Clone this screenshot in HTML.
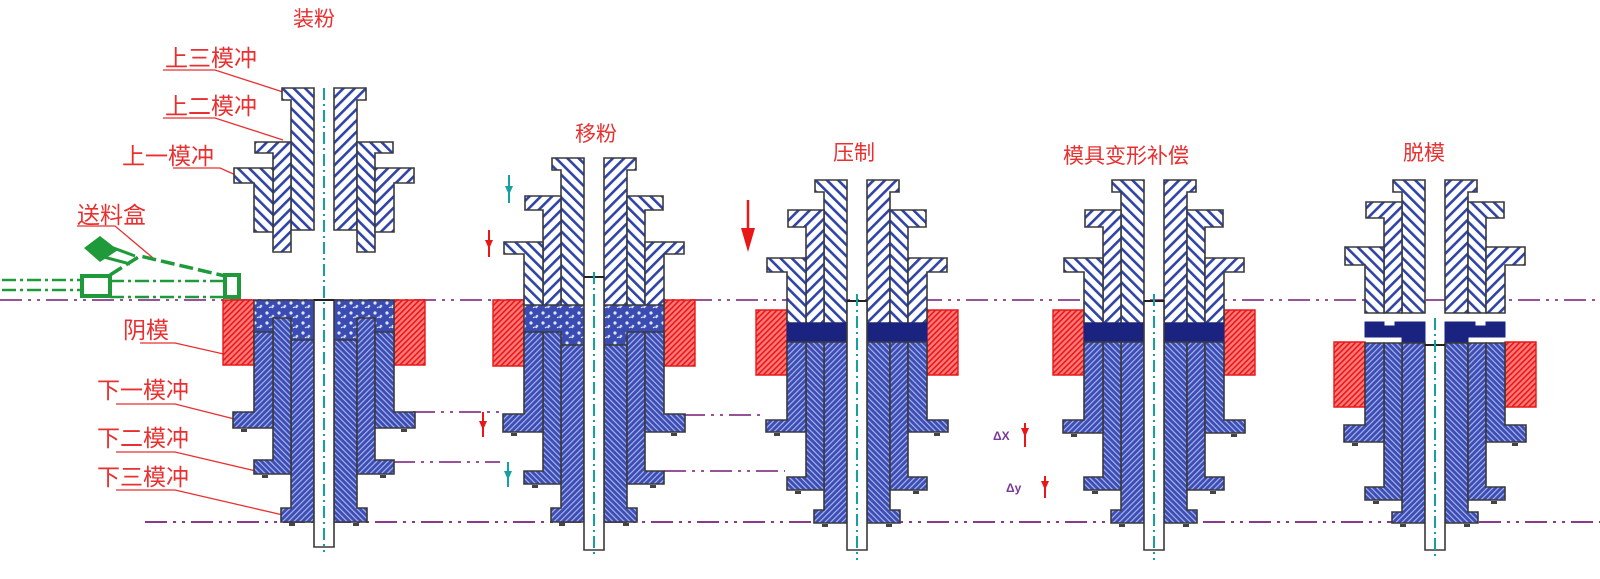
<!DOCTYPE html>
<html><head><meta charset="utf-8">
<style>
html,body{margin:0;padding:0;background:#fff;}
svg{display:block;}
text{font-family:"Liberation Sans","Noto Sans CJK SC",sans-serif;}
</style></head>
<body>
<svg id="s" width="1600" height="579" viewBox="0 0 1600 579" xmlns="http://www.w3.org/2000/svg">
<defs>
<pattern id="uA" width="8" height="8" patternUnits="userSpaceOnUse" patternTransform="rotate(45)"><rect width="8" height="8" fill="#fff"/><rect x="0" y="0" width="2.6" height="8" fill="#2f44a6"/></pattern>
<pattern id="uB" width="8" height="8" patternUnits="userSpaceOnUse" patternTransform="rotate(-45)"><rect width="8" height="8" fill="#fff"/><rect x="0" y="0" width="2.6" height="8" fill="#2f44a6"/></pattern>
<pattern id="lA" width="4" height="4" patternUnits="userSpaceOnUse" patternTransform="rotate(45)"><rect width="4" height="4" fill="#3b4db4"/><rect x="0" y="0" width="1.2" height="4" fill="#a8b2ea"/></pattern>
<pattern id="lB" width="4" height="4" patternUnits="userSpaceOnUse" patternTransform="rotate(-45)"><rect width="4" height="4" fill="#3b4db4"/><rect x="0" y="0" width="1.2" height="4" fill="#a8b2ea"/></pattern>
<pattern id="dH" width="4" height="4" patternUnits="userSpaceOnUse" patternTransform="rotate(45)"><rect width="4" height="4" fill="#ff7a7a"/><rect x="0" y="0" width="1.6" height="4" fill="#e81818"/></pattern>
<pattern id="pw" width="12" height="10" patternUnits="userSpaceOnUse"><rect width="12" height="10" fill="#3a4cb2"/><circle cx="3" cy="3" r="1.6" fill="#dfe4ff"/><circle cx="9" cy="6" r="1.3" fill="#c8d0ff"/><path d="M5 8 q2 -2 4 0" stroke="#e8ebff" stroke-width="1" fill="none"/></pattern>
</defs>

<g fill="#e83030" font-size="21">
<text x="293" y="26">装粉</text>
<text x="575" y="141">移粉</text>
<text x="833" y="160">压制</text>
<text x="1063" y="163">模具变形补偿</text>
<text x="1403" y="160">脱模</text>
</g>

<g fill="#e83030" font-size="23">
<text x="165" y="66">上三模冲</text>
<text x="165" y="114">上二模冲</text>
<text x="122" y="164">上一模冲</text>
<text x="77" y="223">送料盒</text>
<text x="123" y="338">阴模</text>
<text x="97" y="398">下一模冲</text>
<text x="97" y="446">下二模冲</text>
<text x="97" y="485">下三模冲</text>
</g>
<g stroke="#e83030" stroke-width="1.3" fill="none">
<polyline points="163,70 215,70 283,92"/>
<polyline points="163,118 215,118 283,140"/>
<polyline points="173,168 220,168 247,180"/>
<polyline points="77,226 115,226 153,258"/>
<polyline points="140,343 175,343 228,355"/>
<polyline points="116,404 175,404 262,426"/>
<polyline points="116,452 175,452 260,472"/>
<polyline points="116,490 175,490 283,515"/>
</g>

<g id="draw"></g>

<g fill="#1f9a3a" stroke="#1f9a3a">
<polygon points="84,248 100,236 118,250 100,262" stroke="none"/>
<line x1="100" y1="256" x2="130" y2="264" stroke-width="3"/>
<line x1="108" y1="246" x2="135" y2="256" stroke-width="3"/>
<polyline points="110,275 140,256 225,276" fill="none" stroke-width="3.5" stroke-dasharray="14,5"/>
<rect x="82" y="276" width="28" height="20" fill="none" stroke-width="4"/>
<rect x="225" y="275" width="14" height="22" fill="none" stroke-width="4"/>
<line x1="110" y1="297" x2="225" y2="297" stroke-width="2.5" stroke-dasharray="14,4,3,4"/>
<line x1="110" y1="281" x2="225" y2="281" stroke-width="2.5" stroke-dasharray="14,4,3,4"/>
<line x1="2" y1="280" x2="82" y2="280" stroke-width="2.5" stroke-dasharray="14,4,3,4"/>
<line x1="2" y1="290" x2="82" y2="290" stroke-width="2.5" stroke-dasharray="14,4,3,4"/>
</g>

<g>
<line x1="509" y1="175" x2="509" y2="203" stroke="#17a0a0" stroke-width="2"/><polygon points="505,186 513,186 509,195" fill="#17a0a0"/>
<line x1="489" y1="230" x2="489" y2="257" stroke="#e81818" stroke-width="2"/><polygon points="485,240 493,240 489,249" fill="#e81818"/>
<line x1="483" y1="412" x2="483" y2="437" stroke="#e81818" stroke-width="2"/><polygon points="479,421 487,421 483,430" fill="#e81818"/>
<line x1="508" y1="462" x2="508" y2="487" stroke="#17a0a0" stroke-width="2"/><polygon points="504,471 512,471 508,480" fill="#17a0a0"/>
<line x1="748" y1="200" x2="748" y2="232" stroke="#e81818" stroke-width="2.5"/><polygon points="741,228 755,228 748,252" fill="#e81818"/>
<text x="993" y="440" font-size="12" font-weight="bold" fill="#7a3a9a">ΔX</text>
<line x1="1025" y1="423" x2="1025" y2="447" stroke="#e81818" stroke-width="2"/><polygon points="1021,428 1029,428 1025,437" fill="#e81818"/>
<text x="1006" y="492" font-size="12" font-weight="bold" fill="#7a3a9a">Δy</text>
<line x1="1045" y1="476" x2="1045" y2="498" stroke="#e81818" stroke-width="2"/><polygon points="1041,481 1049,481 1045,490" fill="#e81818"/>
</g>
</svg>
<script>
(function(){
var NS="http://www.w3.org/2000/svg",g=document.getElementById("draw");
function el(t,a){var e=document.createElementNS(NS,t);for(var k in a)e.setAttribute(k,a[k]);g.appendChild(e);return e;}
function poly(pts,fill,stroke,sw){el("polygon",{points:pts.map(function(p){return p[0]+","+p[1]}).join(" "),fill:fill,stroke:stroke||"#3a3a3a","stroke-width":sw||1.6});}
function pline(x1,y1,x2,y2,c,w,d){el("line",{x1:x1,y1:y1,x2:x2,y2:y2,stroke:c,"stroke-width":w,"stroke-dasharray":d||""});}
var PU="#8a3a8a";
pline(0,300,1600,300,PU,1.8,"22,6,3,6,3,6");
pline(145,522,1600,522,PU,2,"22,6,3,6,3,6");
pline(413,412,505,412,PU,1.8,"22,6,3,6,3,6");
pline(393,462,500,462,PU,1.8,"22,6,3,6,3,6");
pline(683,415,765,415,PU,1.8,"22,6,3,6,3,6");
pline(664,471,785,471,PU,1.8,"22,6,3,6,3,6");

var R=[[10,33,42],[33,51,69],[51,70,90]];
var L=[[10,33,43],[33,51,70],[51,70,91]];
var A=[
 {c:324,up:[[88,12,230],[142,11,252],[168,15,232]],die:[300,365],powder:[300,342],lt:[340,318,332],lf:[[522,14],[474,14],[428,16]],core:[300,547],cl:[88,552]},
 {c:594,up:[[158,12,305],[196,14,305],[242,12,305]],die:[300,366],powder:[300,346],lt:[345,332,332],lf:[[522,14],[484,13],[432,18]],core:[277,550],cl:[272,556]},
 {c:857,up:[[180,12,323],[210,17,323],[258,14,323]],die:[310,375],comp:[323,342],lt:[342,342,342],lf:[[523,13],[490,13],[432,12]],core:[301,550],cl:[294,560]},
 {c:1154,up:[[180,12,323],[210,17,323],[258,14,323]],die:[310,375],comp:[323,342],lt:[342,342,342],lf:[[523,13],[490,13],[433,13]],core:[301,550],cl:[294,560]},
 {c:1435,up:[[180,12,313],[202,16,313],[247,18,313]],die:[342,407],comp:[322,343],lt:[343,343,343],lf:[[523,11],[500,13],[442,17]],core:[345,550],cl:[318,560]}
];
A.forEach(function(a){
 var c=a.c;
 poly([[c-101,a.die[0]],[c-70,a.die[0]],[c-70,a.die[1]],[c-101,a.die[1]]],"url(#dH)","#e81818",1.4);
 poly([[c+70,a.die[0]],[c+101,a.die[0]],[c+101,a.die[1]],[c+70,a.die[1]]],"url(#dH)","#e81818",1.4);
 if(a.powder){poly([[c-70,a.powder[0]],[c+70,a.powder[0]],[c+70,a.powder[1]],[c-70,a.powder[1]]],"url(#pw)","#3a3a3a",1.4);}
 for(var i=0;i<3;i++){
  var r=R[i],u=a.up[i],t=u[0],fh=u[1],b=u[2];
  var fl=(i%2==0)?"url(#uB)":"url(#uA)",fr=(i%2==0)?"url(#uA)":"url(#uB)";
  poly([[c-r[0],t],[c-r[2],t],[c-r[2],t+fh],[c-r[1],t+fh],[c-r[1],b],[c-r[0],b]],fl);
  poly([[c+r[0],t],[c+r[2],t],[c+r[2],t+fh],[c+r[1],t+fh],[c+r[1],b],[c+r[0],b]],fr);
 }
 if(a.comp){
  var y0=a.comp[0],y1=a.comp[1];
  if(c==1435){
   poly([[c-70,y0],[c-51,y0],[c-51,y0+4],[c-40,y0+4],[c-40,y0],[c-10,y0],[c-10,y1],[c-33,y1],[c-33,y1-6],[c-51,y1-6],[c-70,y1-6]],"#1b2380","#1b2380",1);
   poly([[c+70,y0],[c+51,y0],[c+51,y0+4],[c+40,y0+4],[c+40,y0],[c+10,y0],[c+10,y1],[c+33,y1],[c+33,y1-6],[c+51,y1-6],[c+70,y1-6]],"#1b2380","#1b2380",1);
  } else {
   poly([[c-70,y0],[c-10,y0],[c-10,y1],[c-70,y1]],"#1b2380","#1b2380",1);
   poly([[c+10,y0],[c+70,y0],[c+70,y1],[c+10,y1]],"#1b2380","#1b2380",1);
  }
 }
 for(var j=0;j<3;j++){
  var l=L[j],tt=a.lt[j],fb=a.lf[j][0],lh=a.lf[j][1];
  var f1=(j%2==0)?"url(#lA)":"url(#lB)",f2=(j%2==0)?"url(#lB)":"url(#lA)";
  poly([[c-l[0],tt],[c-l[1],tt],[c-l[1],fb-lh],[c-l[2],fb-lh],[c-l[2],fb],[c-l[0],fb]],f1);
  poly([[c+l[0],tt],[c+l[1],tt],[c+l[1],fb-lh],[c+l[2],fb-lh],[c+l[2],fb],[c+l[0],fb]],f2);
  [c-l[2]+8,c+l[2]-14].forEach(function(x){el("rect",{x:x,y:fb+1,width:6,height:3,fill:"#444"});});
 }
 poly([[c-10,a.core[0]],[c+10,a.core[0]],[c+10,a.core[1]],[c-10,a.core[1]]],"#fff","#3a3a3a",1.6);
 pline(c-10,a.core[0],c+10,a.core[0],"#222",2);
 pline(c,a.cl[0],c,a.cl[1],"#17a0a0",2,"12,4,2,4");
});
})();
</script>
</body></html>
